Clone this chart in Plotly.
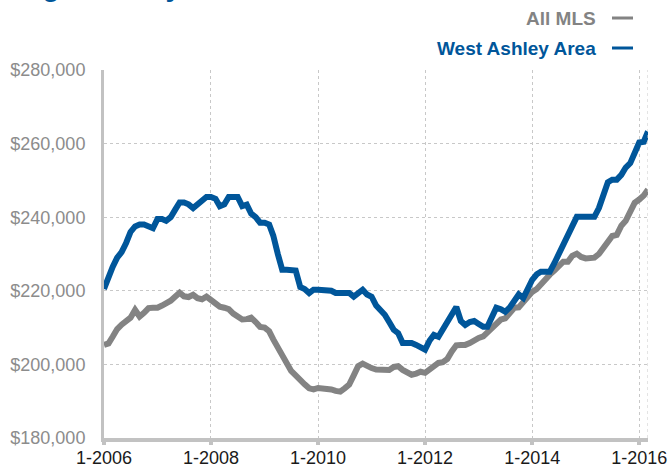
import plotly.graph_objects as go

# Months: Jan 2006 .. Mar 2016
months = [f"{2006 + i // 12}-{i % 12 + 1:02d}-01" for i in range(123)]

west_ashley = [
    220.5, 224, 226.5, 229, 230.5, 233, 236, 237.5, 238, 238, 237.5, 237,
    239.5, 239.5, 239, 240, 242, 244, 244, 243.5, 242.5, 243.5, 245, 245.5,
    245.5, 245, 243, 243.5, 245.5, 245.5, 245.5, 243, 243.4, 241, 240, 238.5,
    238.5, 238, 235, 230, 225.7, 225.7, 225.7, 225.5, 221, 220.5, 219.4, 220.3,
    220.3, 220.3, 220.3, 220, 219.4, 219.4, 219.4, 219.4, 218.4, 219.5, 220.3, 219,
    218.4, 216, 214.8, 213.5, 211.5, 209.4, 208.5, 205.8, 205.8, 205.8, 205.3, 204.8,
    204, 206.5, 208, 207.5, 209.5, 212, 213.5, 215.6, 211.8, 210.7, 211.5, 211.8,
    211, 210.2, 210.2, 213, 215.4, 215, 214.3, 215.5, 217.5, 219, 218, 220.5,
    223, 224.5, 225.2, 225.2, 225.2, 227.5, 230, 232.5, 235, 237.5, 240.1, 240.1,
    240.1, 240.1, 240.1, 242.5, 246.5, 249.5, 250.2, 250.2, 251.5, 253.5, 254.7, 257.5,
    260.3, 260.5, 263.3,
]

all_mls = [
    205.3, 205.7, 207.5, 209.6, 210.8, 212, 212.7, 214.8, 213, 214, 215.3, 215.4,
    215.4, 216, 216.5, 217.3, 218.4, 219.5, 218.5, 218.3, 218.9, 218, 217.7, 218.4,
    217.5, 216.5, 215.7, 215.4, 215, 213.8, 213, 212.2, 212.3, 212.7, 211.5, 210.2,
    210, 209, 206.8, 204.5, 202, 200, 198.2, 197, 196, 194.6, 193.5, 193.2,
    193.6, 193.6, 193.6, 193.2, 192.8, 192.6, 193.5, 194.5, 197, 199.5, 200.2, 199.5,
    199, 198.6, 198.5, 198.5, 198.5, 199.3, 199.5, 198.5, 197.8, 197.2, 197.5, 198,
    197.7, 198.5, 199.5, 200.4, 200.6, 201.5, 203.5, 205.2, 205.3, 205.3, 205.8, 206.7,
    207.2, 207.6, 208.8, 210, 211.2, 212.2, 212.5, 213.8, 215.4, 215.5, 216.8, 218.6,
    219.7, 220.5, 221.9, 223.5, 224.4, 225.5, 227, 227.9, 227.9, 229.5, 230.1, 229.2,
    228.8, 228.7, 229, 230, 231.5, 233.2, 234.9, 235.2, 237.7, 239, 241.2, 243.9,
    244.8, 245.9, 247.5,
]

tick_dates = ["2006-01-01", "2008-01-01", "2010-01-01", "2012-01-01", "2014-01-01", "2016-01-01"]
tick_text = ["1-2006", "1-2008", "1-2010", "1-2012", "1-2014", "1-2016"]
y_ticks = [180000, 200000, 220000, 240000, 260000, 280000]
y_text = ["$180,000", "$200,000", "$220,000", "$240,000", "$260,000", "$280,000"]

BLUE = "#00569a"
GRAY = "#838383"
AXIS = "#c2c2c2"
GRID = "#c8c8c8"
X_END = "2016-03-01"

fig = go.Figure()
fig.add_trace(go.Scatter(x=months, y=[v * 1000 for v in all_mls], mode="lines",
                         line=dict(color=GRAY, width=6), name="All MLS"))
fig.add_trace(go.Scatter(x=months, y=[v * 1000 for v in west_ashley], mode="lines",
                         line=dict(color=BLUE, width=6), name="West Ashley Area"))

fig.update_layout(
    width=670, height=470,
    margin=dict(l=104, r=22, t=70, b=32, autoexpand=False),
    paper_bgcolor="white", plot_bgcolor="white",
    showlegend=False,
    font=dict(family="Liberation Sans, Arial, sans-serif"),
)
fig.update_xaxes(
    type="date", range=["2006-01-01", X_END], automargin=False,
    tickvals=tick_dates, ticktext=tick_text,
    tickfont=dict(size=18, color="#1a1a1a"),
    showline=True, linecolor=AXIS, linewidth=4,
    ticks="outside", ticklen=3, tickwidth=4, tickcolor=AXIS,
    ticklabelstandoff=-3,
    showgrid=True, gridcolor=GRID, gridwidth=1, griddash="dot",
    zeroline=False,
)
fig.update_yaxes(
    range=[180000, 280000], tickvals=y_ticks, ticktext=y_text, automargin=False,
    tickfont=dict(size=18, color="#8c8c8c"),
    showline=True, linecolor=AXIS, linewidth=3,
    ticks="", ticklabelstandoff=12,
    showgrid=True, gridcolor=GRID, gridwidth=1, griddash="dot",
    zeroline=False,
)

# right-edge dotted frame line
fig.add_shape(type="line", xref="x", yref="paper", x0=X_END, x1=X_END, y0=0, y1=1,
              line=dict(color=GRID, width=1, dash="dot"))

# Title (mostly cut off at top, as in the source)
fig.add_annotation(text="<b>Single-Family Detached</b>", xref="paper", yref="paper",
                   x=(-3 - 104) / 544, y=(438 - 4) / 368, xanchor="left", yanchor="bottom",
                   showarrow=False,
                   font=dict(family="Liberation Sans Narrow, Liberation Sans, sans-serif", size=28, color=BLUE))

# Legend (text + dash)
leg = [("All MLS", GRAY, 18), ("West Ashley Area", BLUE, 48)]
for label, col, py in leg:
    yp = (438 - py) / 368
    fig.add_annotation(text=f"<b>{label}</b>", xref="paper", yref="paper",
                       x=(598 - 104) / 544, y=yp, xanchor="right", yanchor="middle",
                       showarrow=False,
                       font=dict(family="Liberation Sans Narrow, Liberation Sans, sans-serif", size=19, color=col))
    fig.add_shape(type="line", xref="paper", yref="paper",
                  x0=(612 - 104) / 544, x1=(633 - 104) / 544, y0=yp, y1=yp,
                  line=dict(color=col, width=3))

fig.write_html("out.html", config={"displayModeBar": False},
               post_script="document.body.style.margin='0';document.body.style.padding='0';")
